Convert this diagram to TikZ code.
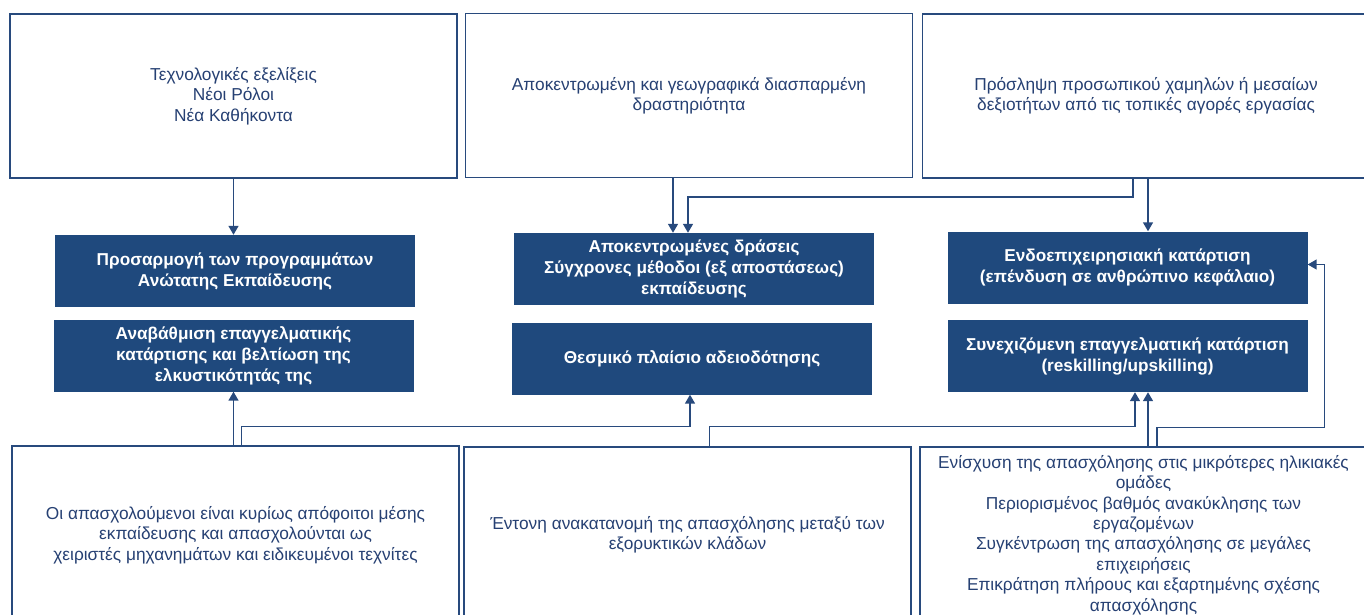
\documentclass[tikz,border=0pt]{standalone}
\usepackage{fontspec}
\setmainfont{Liberation Sans}
\usepackage{xcolor}
\usetikzlibrary{arrows.meta, positioning}
\definecolor{boxblue}{RGB}{31, 73, 125}
\definecolor{lineblue}{RGB}{40, 74, 125}
\definecolor{textblue}{RGB}{38, 64, 115}

\begin{document}
\begin{tikzpicture}[x=1pt, y=1pt,
    factor/.style={rectangle, draw=lineblue, line width=1.5pt, fill=white, text=textblue, minimum width=447pt, minimum height=164pt, align=center, font=\fontsize{17.3}{20.4}\selectfont},
    action/.style={rectangle, fill=boxblue, text=white, minimum width=360pt, minimum height=72pt, align=center, font=\fontsize{17.2}{21}\selectfont\bfseries},
    link/.style={-{Triangle[width=10pt,length=9pt]}, line width=1.5pt, draw=lineblue}
]
    \useasboundingbox (0,0) rectangle (1364,-615);
    \clip (0,0) rectangle (1364,-615);

    % top row: drivers
    \node[factor] (t1) at (233.5,-96) {Τεχνολογικές εξελίξεις\\Νέοι Ρόλοι\\Νέα Καθήκοντα};
    \node[factor] (t2) at (689,-95.5) {Αποκεντρωμένη και γεωγραφικά διασπαρμένη\\δραστηριότητα};
    \node[factor] (t3) at (1146,-96) {Πρόσληψη προσωπικού χαμηλών ή μεσαίων\\δεξιοτήτων από τις τοπικές αγορές εργασίας};

    % middle row: actions
    \node[action] (b1) at (235,-271) {Προσαρμογή των προγραμμάτων\\Ανώτατης Εκπαίδευσης};
    \node[action] (b2) at (233.5,-355.5) {Αναβάθμιση επαγγελματικής\\κατάρτισης και βελτίωση της\\ελκυστικότητάς της};
    \node[action] (c1) at (694,-269) {Αποκεντρωμένες δράσεις\\Σύγχρονες μέθοδοι (εξ αποστάσεως)\\εκπαίδευσης};
    \node[action] (c2) at (692,-358.5) {Θεσμικό πλαίσιο αδειοδότησης};
    \node[action] (r1) at (1127.5,-267.5) {Ενδοεπιχειρησιακή κατάρτιση\\(επένδυση σε ανθρώπινο κεφάλαιο)};
    \node[action] (r2) at (1127.5,-356) {Συνεχιζόμενη επαγγελματική κατάρτιση\\(reskilling/upskilling)};

    % bottom row: employment features
    \node[factor, minimum height=178pt] (l1) at (235.5,-535) {Οι απασχολούμενοι είναι κυρίως απόφοιτοι μέσης\\εκπαίδευσης και απασχολούνται ως\\χειριστές μηχανημάτων και ειδικευμένοι τεχνίτες};
    \node[factor, minimum height=176pt] (m1) at (687.5,-535) {Έντονη ανακατανομή της απασχόλησης μεταξύ των\\εξορυκτικών κλάδων};
    \node[factor, minimum height=176pt] (r3) at (1143.5,-535) {Ενίσχυση της απασχόλησης στις μικρότερες ηλικιακές\\ομάδες\\Περιορισμένος βαθμός ανακύκλησης των\\εργαζομένων\\Συγκέντρωση της απασχόλησης σε μεγάλες\\επιχειρήσεις\\Επικράτηση πλήρους και εξαρτημένης σχέσης\\απασχόλησης};

    % top -> middle
    \draw[link] (t1.south) -- (t1.south |- b1.north);
    \draw[link] ([xshift=-16pt]t2.south) -- ([xshift=-16pt]t2.south |- c1.north);
    \draw[link] ([xshift=-13pt]t3.south) -- ++(0,-18) -| ([xshift=-6pt]c1.north);
    \draw[link] ([xshift=2pt]t3.south) -- ([xshift=2pt]t3.south |- r1.north);

    % bottom -> middle
    \draw[link] ([xshift=-2pt]l1.north) -- ([xshift=-2pt]l1.north |- b2.south);
    \draw[link] ([xshift=6pt]l1.north) -- ++(0,19) -| ([xshift=-2pt]c2.south);
    \draw[link] ([xshift=22pt]m1.north) -- ++(0,20) -| ([xshift=7.5pt]r2.south);
    \draw[link] ([xshift=4.5pt]r3.north) -- ([xshift=4.5pt]r3.north |- r2.south);
    \draw[link] ([xshift=13.5pt]r3.north) -- ++(0,19) -| ([xshift=17pt,yshift=3pt]r1.east) -- ([yshift=3pt]r1.east);
\end{tikzpicture}
\end{document}
